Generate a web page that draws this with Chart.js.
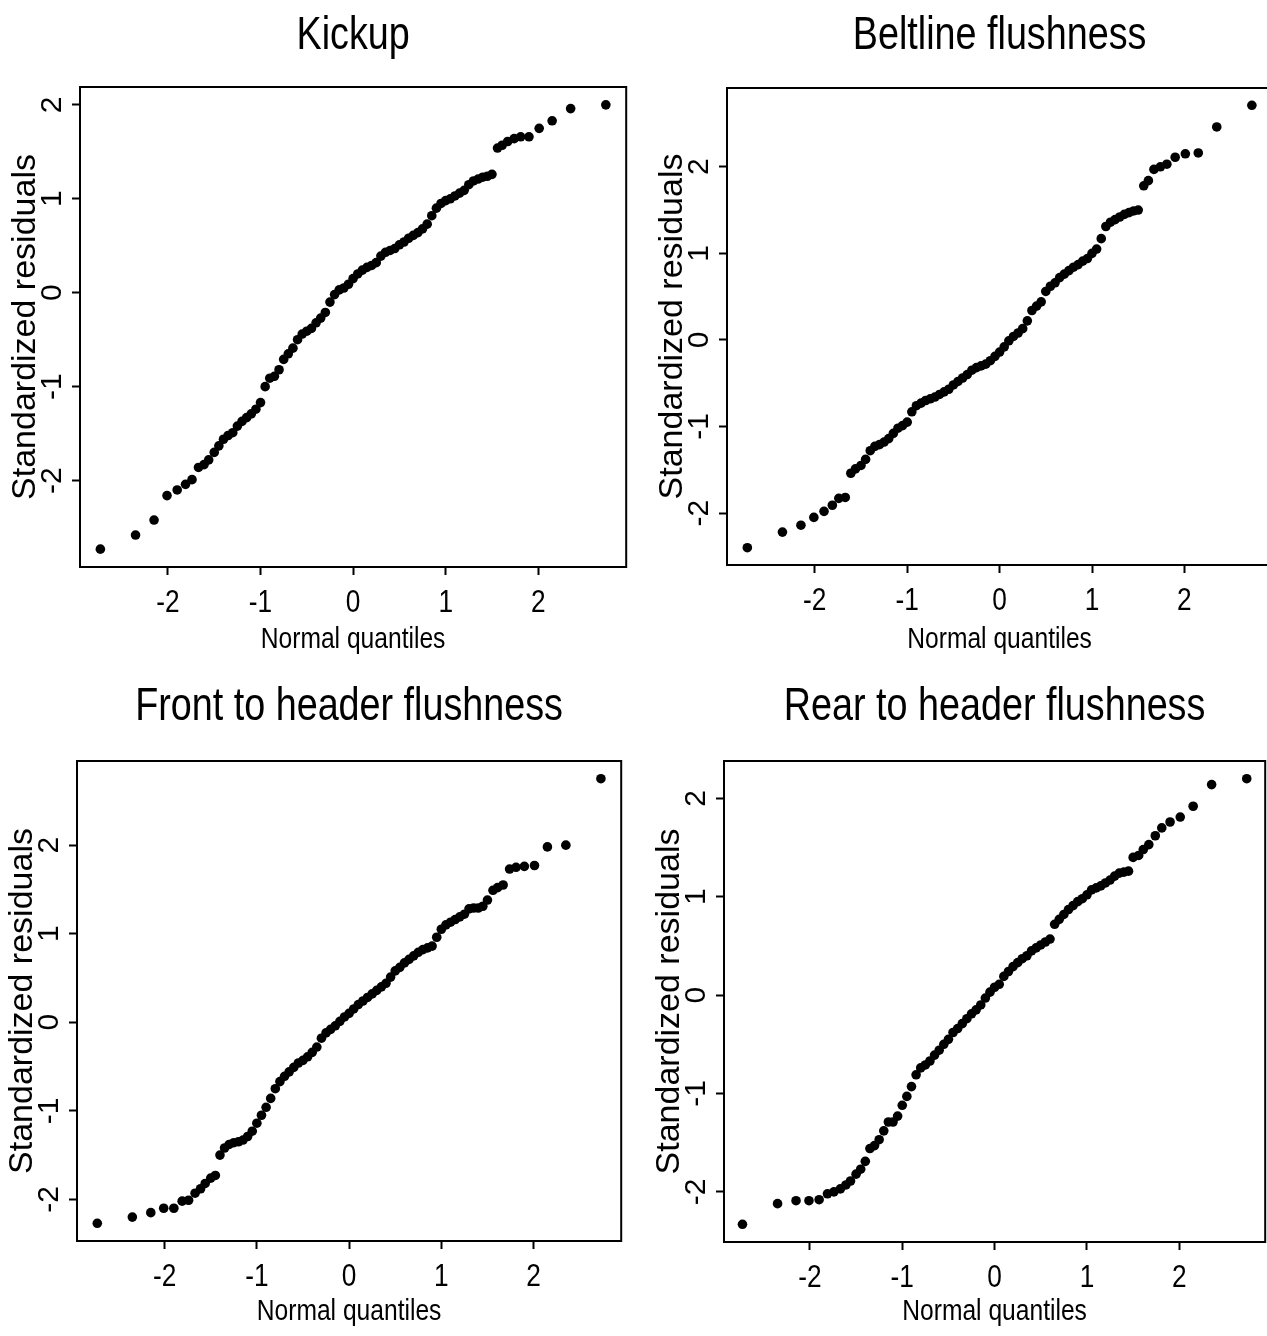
<!DOCTYPE html>
<html>
<head>
<meta charset="utf-8">
<script src="https://cdn.jsdelivr.net/npm/chart.js@4.4.1/dist/chart.umd.min.js"></script>
<style>
  html, body { margin: 0; padding: 0; background: #fff; overflow: hidden; }
  body { width: 1267px; height: 1336px; position: relative; }
  canvas { position: absolute; }
</style>
</head>
<body>
<canvas id="kickup"></canvas>
<canvas id="beltline"></canvas>
<canvas id="front"></canvas>
<canvas id="rear"></canvas>
<script>
// normal quantiles (shared by all four plots)
const quantiles = [
  -2.73, -2.35, -2.15, -2.01, -1.90, -1.81, -1.74, -1.67, -1.61, -1.56,
  -1.50, -1.45, -1.40, -1.35, -1.30, -1.25, -1.20, -1.15, -1.10, -1.05,
  -1.00, -0.95, -0.90, -0.85, -0.80, -0.75, -0.70, -0.65, -0.60, -0.55,
  -0.50, -0.45, -0.40, -0.35, -0.30, -0.25, -0.20, -0.15, -0.10, -0.05,
  0.00, 0.05, 0.10, 0.15, 0.20, 0.25, 0.30, 0.35, 0.40, 0.45,
  0.50, 0.55, 0.60, 0.65, 0.70, 0.75, 0.80, 0.85, 0.90, 0.95,
  1.00, 1.05, 1.10, 1.15, 1.20, 1.25, 1.30, 1.35, 1.40, 1.45,
  1.50, 1.56, 1.61, 1.67, 1.74, 1.81, 1.90, 2.01, 2.15, 2.35, 2.73
];

// standardized residuals, one array per response
const kickupResid = [
  -2.73, -2.58, -2.42, -2.16, -2.10, -2.04, -1.99, -1.86, -1.83, -1.78,
  -1.70, -1.63, -1.56, -1.52, -1.49, -1.42, -1.37, -1.33, -1.29, -1.24,
  -1.17, -1.00, -0.91, -0.89, -0.82, -0.71, -0.65, -0.59, -0.50, -0.44,
  -0.41, -0.38, -0.32, -0.27, -0.21, -0.10, -0.02, 0.03, 0.05, 0.09,
  0.15, 0.20, 0.24, 0.27, 0.29, 0.32, 0.39, 0.43, 0.45, 0.47,
  0.51, 0.54, 0.58, 0.61, 0.64, 0.68, 0.73, 0.82, 0.90, 0.95,
  0.98, 1.00, 1.03, 1.06, 1.09, 1.15, 1.19, 1.21, 1.23, 1.24,
  1.26, 1.54, 1.57, 1.61, 1.64, 1.66, 1.66, 1.75, 1.83, 1.96, 2.00
];
const beltlineResid = [
  -2.40, -2.22, -2.14, -2.05, -1.98, -1.91, -1.83, -1.82, -1.54, -1.49,
  -1.45, -1.38, -1.28, -1.23, -1.21, -1.18, -1.14, -1.08, -1.02, -0.99,
  -0.95, -0.83, -0.76, -0.73, -0.70, -0.68, -0.66, -0.63, -0.60, -0.57,
  -0.52, -0.48, -0.44, -0.40, -0.35, -0.32, -0.30, -0.28, -0.24, -0.19,
  -0.14, -0.08, -0.01, 0.04, 0.08, 0.13, 0.22, 0.34, 0.39, 0.44,
  0.56, 0.62, 0.66, 0.72, 0.76, 0.80, 0.84, 0.87, 0.91, 0.94,
  1.00, 1.05, 1.17, 1.31, 1.36, 1.39, 1.42, 1.45, 1.47, 1.49,
  1.50, 1.78, 1.84, 1.97, 2.00, 2.03, 2.11, 2.15, 2.16, 2.46, 2.71
];
const frontResid = [
  -2.27, -2.20, -2.15, -2.10, -2.10, -2.02, -2.01, -1.93, -1.88, -1.82,
  -1.76, -1.73, -1.50, -1.42, -1.38, -1.36, -1.35, -1.33, -1.29, -1.23,
  -1.14, -1.05, -0.96, -0.86, -0.75, -0.67, -0.61, -0.56, -0.51, -0.46,
  -0.43, -0.39, -0.34, -0.28, -0.18, -0.12, -0.08, -0.04, 0.01, 0.06,
  0.10, 0.15, 0.20, 0.24, 0.28, 0.32, 0.36, 0.40, 0.44, 0.51,
  0.58, 0.62, 0.67, 0.71, 0.75, 0.79, 0.82, 0.84, 0.86, 0.96,
  1.05, 1.10, 1.13, 1.16, 1.19, 1.22, 1.28, 1.29, 1.29, 1.31,
  1.38, 1.49, 1.52, 1.55, 1.73, 1.75, 1.76, 1.77, 1.98, 2.00, 2.75
];
const rearResid = [
  -2.33, -2.12, -2.09, -2.09, -2.08, -2.02, -2.00, -1.97, -1.93, -1.89,
  -1.82, -1.77, -1.69, -1.56, -1.53, -1.47, -1.38, -1.29, -1.29, -1.23,
  -1.12, -1.03, -0.93, -0.81, -0.74, -0.71, -0.67, -0.61, -0.56, -0.50,
  -0.45, -0.38, -0.34, -0.29, -0.24, -0.19, -0.15, -0.10, -0.03, 0.03,
  0.08, 0.11, 0.19, 0.24, 0.29, 0.33, 0.37, 0.40, 0.45, 0.48,
  0.51, 0.54, 0.57, 0.72, 0.77, 0.82, 0.87, 0.91, 0.95, 0.98,
  1.02, 1.07, 1.09, 1.11, 1.14, 1.17, 1.21, 1.24, 1.25, 1.26,
  1.40, 1.42, 1.48, 1.53, 1.62, 1.70, 1.76, 1.81, 1.92, 2.14, 2.20
];

const titles = ["Kickup", "Beltline flushness", "Front to header flushness", "Rear to header flushness"];
const xLabel = "Normal quantiles";
const yLabel = "Standardized residuals";

// no narrow face is installed: texts tagged with NarrowMark get squeezed horizontally
const NARROW = "NarrowMark, 'Liberation Sans', Arial, sans-serif";
const NARROW_SCALE = 0.82;
const REGULAR = "'Liberation Sans', Arial, Helvetica, sans-serif";

const TITLE_SIZE = 46;
const Y_AXIS_W = 72;
const PAD_R = 4;

// box = plot frame [left, top, right, bottom] in page pixels
const panels = [
  { id: "kickup", title: titles[0], resid: kickupResid, x: [-2.95, 2.95], y: [-2.92, 2.19], box: [80, 87, 627, 567], top: 0, titleY: 36, xTitleY: 640 },
  { id: "beltline", title: titles[1], resid: beltlineResid, x: [-2.95, 2.95], y: [-2.60, 2.91], box: [727, 88, 1273, 565], top: 0, titleY: 36, xTitleY: 640 },
  { id: "front", title: titles[2], resid: frontResid, x: [-2.95, 2.95], y: [-2.47, 2.95], box: [77, 761, 622, 1241], top: 660, titleY: 707, xTitleY: 1312 },
  { id: "rear", title: titles[3], resid: rearResid, x: [-2.93, 2.93], y: [-2.51, 2.38], box: [724, 761, 1266, 1242], top: 660, titleY: 707, xTitleY: 1312 }
];

// closed frame round the plotting region
const framePlugin = {
  id: "frame",
  beforeDatasetsDraw(chart) {
    const { ctx, chartArea: a } = chart;
    ctx.save();
    ctx.strokeStyle = "#000";
    ctx.lineWidth = 2;
    ctx.strokeRect(a.left, a.top, a.right - a.left, a.bottom - a.top);
    ctx.restore();
  }
};

function condenseText(canvas) {
  const ctx = canvas.getContext("2d");
  const fill = ctx.fillText;
  ctx.fillText = function (text, x, y, maxWidth) {
    if (this.font.indexOf("NarrowMark") < 0) {
      return maxWidth === undefined ? fill.call(this, text, x, y) : fill.call(this, text, x, y, maxWidth);
    }
    this.save();
    this.translate(x, y);
    this.scale(NARROW_SCALE, 1);
    fill.call(this, text, 0, 0);
    this.restore();
  };
}

panels.forEach((p) => {
  const canvas = document.getElementById(p.id);
  const left = p.box[0] - Y_AXIS_W;
  const xAxisH = p.xTitleY - p.box[3] + 17;
  canvas.width = p.box[2] + PAD_R - left;
  canvas.height = p.box[3] + xAxisH - p.top;
  canvas.style.left = left + "px";
  canvas.style.top = p.top + "px";
  condenseText(canvas);

  const titleTop = p.titleY - p.top - TITLE_SIZE / 2;
  const titleBottom = p.box[1] - p.top - TITLE_SIZE - titleTop;

  const points = quantiles.map((q, i) => ({ x: q, y: p.resid[i] }));

  new Chart(canvas, {
    type: "scatter",
    data: {
      datasets: [{
        data: points,
        backgroundColor: "#000",
        borderColor: "#000",
        borderWidth: 0,
        pointRadius: 4.8,
        pointHoverRadius: 4.8
      }]
    },
    options: {
      responsive: false,
      animation: false,
      events: [],
      layout: { padding: { left: 0, right: PAD_R, top: 0, bottom: 0 } },
      plugins: {
        legend: { display: false },
        tooltip: { enabled: false },
        title: {
          display: true,
          text: p.title,
          fullSize: false,
          color: "#000",
          font: { family: NARROW, weight: "normal", size: TITLE_SIZE, lineHeight: 1 },
          padding: { top: titleTop, bottom: titleBottom }
        }
      },
      scales: {
        x: {
          type: "linear",
          min: p.x[0],
          max: p.x[1],
          border: { display: false },
          grid: { drawOnChartArea: false, drawTicks: true, tickLength: 8, tickWidth: 2, tickColor: "#000", color: "#000" },
          ticks: { stepSize: 1, includeBounds: false, maxRotation: 0, color: "#000", padding: 12, font: { family: NARROW, size: 32, lineHeight: 1 } },
          title: { display: true, text: xLabel, color: "#000", font: { family: NARROW, size: 30, lineHeight: 1 }, padding: { top: 0, bottom: 2 } },
          afterFit: (s) => { s.height = xAxisH; }
        },
        y: {
          type: "linear",
          min: p.y[0],
          max: p.y[1],
          border: { display: false },
          grid: { drawOnChartArea: false, drawTicks: true, tickLength: 8, tickWidth: 2, tickColor: "#000", color: "#000" },
          ticks: { stepSize: 1, includeBounds: false, minRotation: 90, maxRotation: 90, crossAlign: "center", color: "#000", padding: 6, font: { family: REGULAR, size: 30, lineHeight: 1 } },
          title: { display: true, text: yLabel, color: "#000", font: { family: REGULAR, size: 34, lineHeight: 1 }, padding: { top: 1, bottom: 0 } },
          afterFit: (s) => { s.width = Y_AXIS_W; }
        }
      }
    },
    plugins: [framePlugin]
  });
});
</script>
</body>
</html>
